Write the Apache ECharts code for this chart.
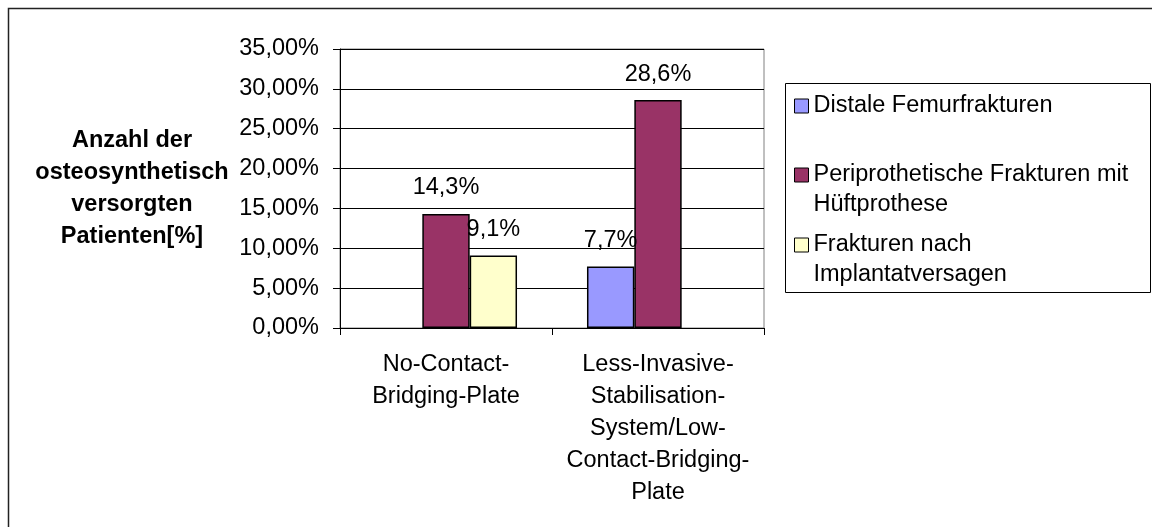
<!DOCTYPE html>
<html>
<head>
<meta charset="utf-8">
<script src="https://cdn.jsdelivr.net/npm/echarts@6/dist/echarts.min.js"></script>
<style>
  html, body { margin: 0; padding: 0; background: #fff; }
  #chart { width: 1152px; height: 527px; }
</style>
</head>
<body>
<div id="chart"></div>
<script>
// Plate systems on the x axis
const categories = [
  'No-Contact-\nBridging-Plate',
  'Less-Invasive-\nStabilisation-\nSystem/Low-\nContact-Bridging-\nPlate'
];

// Share of treated patients per fracture type, in percent (null = no bar)
const seriesNames = [
  'Distale Femurfrakturen',
  'Periprothetische Frakturen mit Hüftprothese',
  'Frakturen nach Implantatversagen'
];
const distaleFemur = [null, 7.7];
const periprothetisch = [14.3, 28.6];
const implantatversagen = [9.1, null];

const seriesColors = ['#9999FF', '#993366', '#FFFFCC'];
const legendLabels = [
  'Distale Femurfrakturen',
  'Periprothetische Frakturen mit\nHüftprothese',
  'Frakturen nach\nImplantatversagen'
];

const yAxisTitle = 'Anzahl der\nosteosynthetisch\nversorgten\nPatienten[%]';

const FONT = '"Liberation Sans", Arial, sans-serif';
const FS = 23.5;

const chart = echarts.init(document.getElementById('chart'), null, { renderer: 'canvas' });

function barSeries(name, data, color) {
  return {
    name: name,
    type: 'bar',
    data: data,
    barGap: '0%',
    barCategoryGap: '33%',
    itemStyle: { color: color, borderColor: '#000', borderWidth: 1.5 },
    label: {
      show: true,
      position: 'top',
      distance: 14,
      color: '#000',
      fontFamily: FONT,
      fontSize: FS,
      formatter: p => p.value.toFixed(1).replace('.', ',') + '%'
    },
    emphasis: { disabled: true }
  };
}

// One legend block per entry; a blank leading line keeps the marker
// level with the first line of a two-line label
const legendTops = [91, 130, 200];
const legends = seriesNames.map((name, i) => {
  const twoLines = legendLabels[i].indexOf('\n') >= 0;
  const text = twoLines ? ' \n' + legendLabels[i] : legendLabels[i];
  return {
    data: [name],
    left: 794,
    top: legendTops[i],
    padding: 0,
    itemWidth: 14,
    itemHeight: 14,
    icon: 'rect',
    selectedMode: false,
    itemStyle: { color: seriesColors[i], borderColor: '#000', borderWidth: 1 },
    formatter: () => text,
    textStyle: {
      color: '#000',
      fontFamily: FONT,
      fontSize: FS,
      lineHeight: 30
    }
  };
});

const option = {
  backgroundColor: '#fff',
  animation: false,
  textStyle: { fontFamily: FONT },
  grid: {
    left: 340,
    right: 388,
    top: 49,
    bottom: 199,
    show: true,
    borderColor: '#808080',
    borderWidth: 1,
    backgroundColor: 'transparent'
  },
  legend: legends,
  xAxis: {
    type: 'category',
    data: categories,
    axisLine: { show: true, lineStyle: { color: '#000', width: 1 } },
    axisTick: { show: true, length: 7, alignWithLabel: false, lineStyle: { color: '#000' } },
    axisLabel: {
      color: '#000',
      fontFamily: FONT,
      fontSize: FS,
      lineHeight: 32,
      margin: 21,
      interval: 0
    }
  },
  yAxis: {
    type: 'value',
    min: 0,
    max: 35,
    interval: 5,
    name: yAxisTitle,
    nameLocation: 'middle',
    nameRotate: 0,
    nameGap: 208,
    nameTextStyle: {
      color: '#000',
      fontFamily: FONT,
      fontSize: FS,
      fontWeight: 'bold',
      lineHeight: 32,
      align: 'center'
    },
    axisLine: { show: true, lineStyle: { color: '#000', width: 1 } },
    axisTick: { show: true, length: 7, lineStyle: { color: '#000' } },
    splitLine: { show: true, lineStyle: { color: '#000', width: 1 } },
    axisLabel: {
      color: '#000',
      fontFamily: FONT,
      fontSize: FS,
      margin: 21,
      formatter: v => v.toFixed(2).replace('.', ',') + '%'
    }
  },
  series: [
    barSeries(seriesNames[0], distaleFemur, seriesColors[0]),
    barSeries(seriesNames[1], periprothetisch, seriesColors[1]),
    barSeries(seriesNames[2], implantatversagen, seriesColors[2])
  ],
  graphic: [
    {
      // outer chart frame
      type: 'rect',
      silent: true,
      shape: { x: 8.5, y: 8.5, width: 1200, height: 600 },
      style: { fill: 'none', stroke: '#222', lineWidth: 1.5 },
      z: 100
    },
    {
      // legend frame
      type: 'rect',
      silent: true,
      shape: { x: 785.5, y: 83.5, width: 365, height: 209 },
      style: { fill: 'none', stroke: '#000', lineWidth: 1 },
      z: 100
    }
  ]
};

chart.setOption(option);
</script>
</body>
</html>
